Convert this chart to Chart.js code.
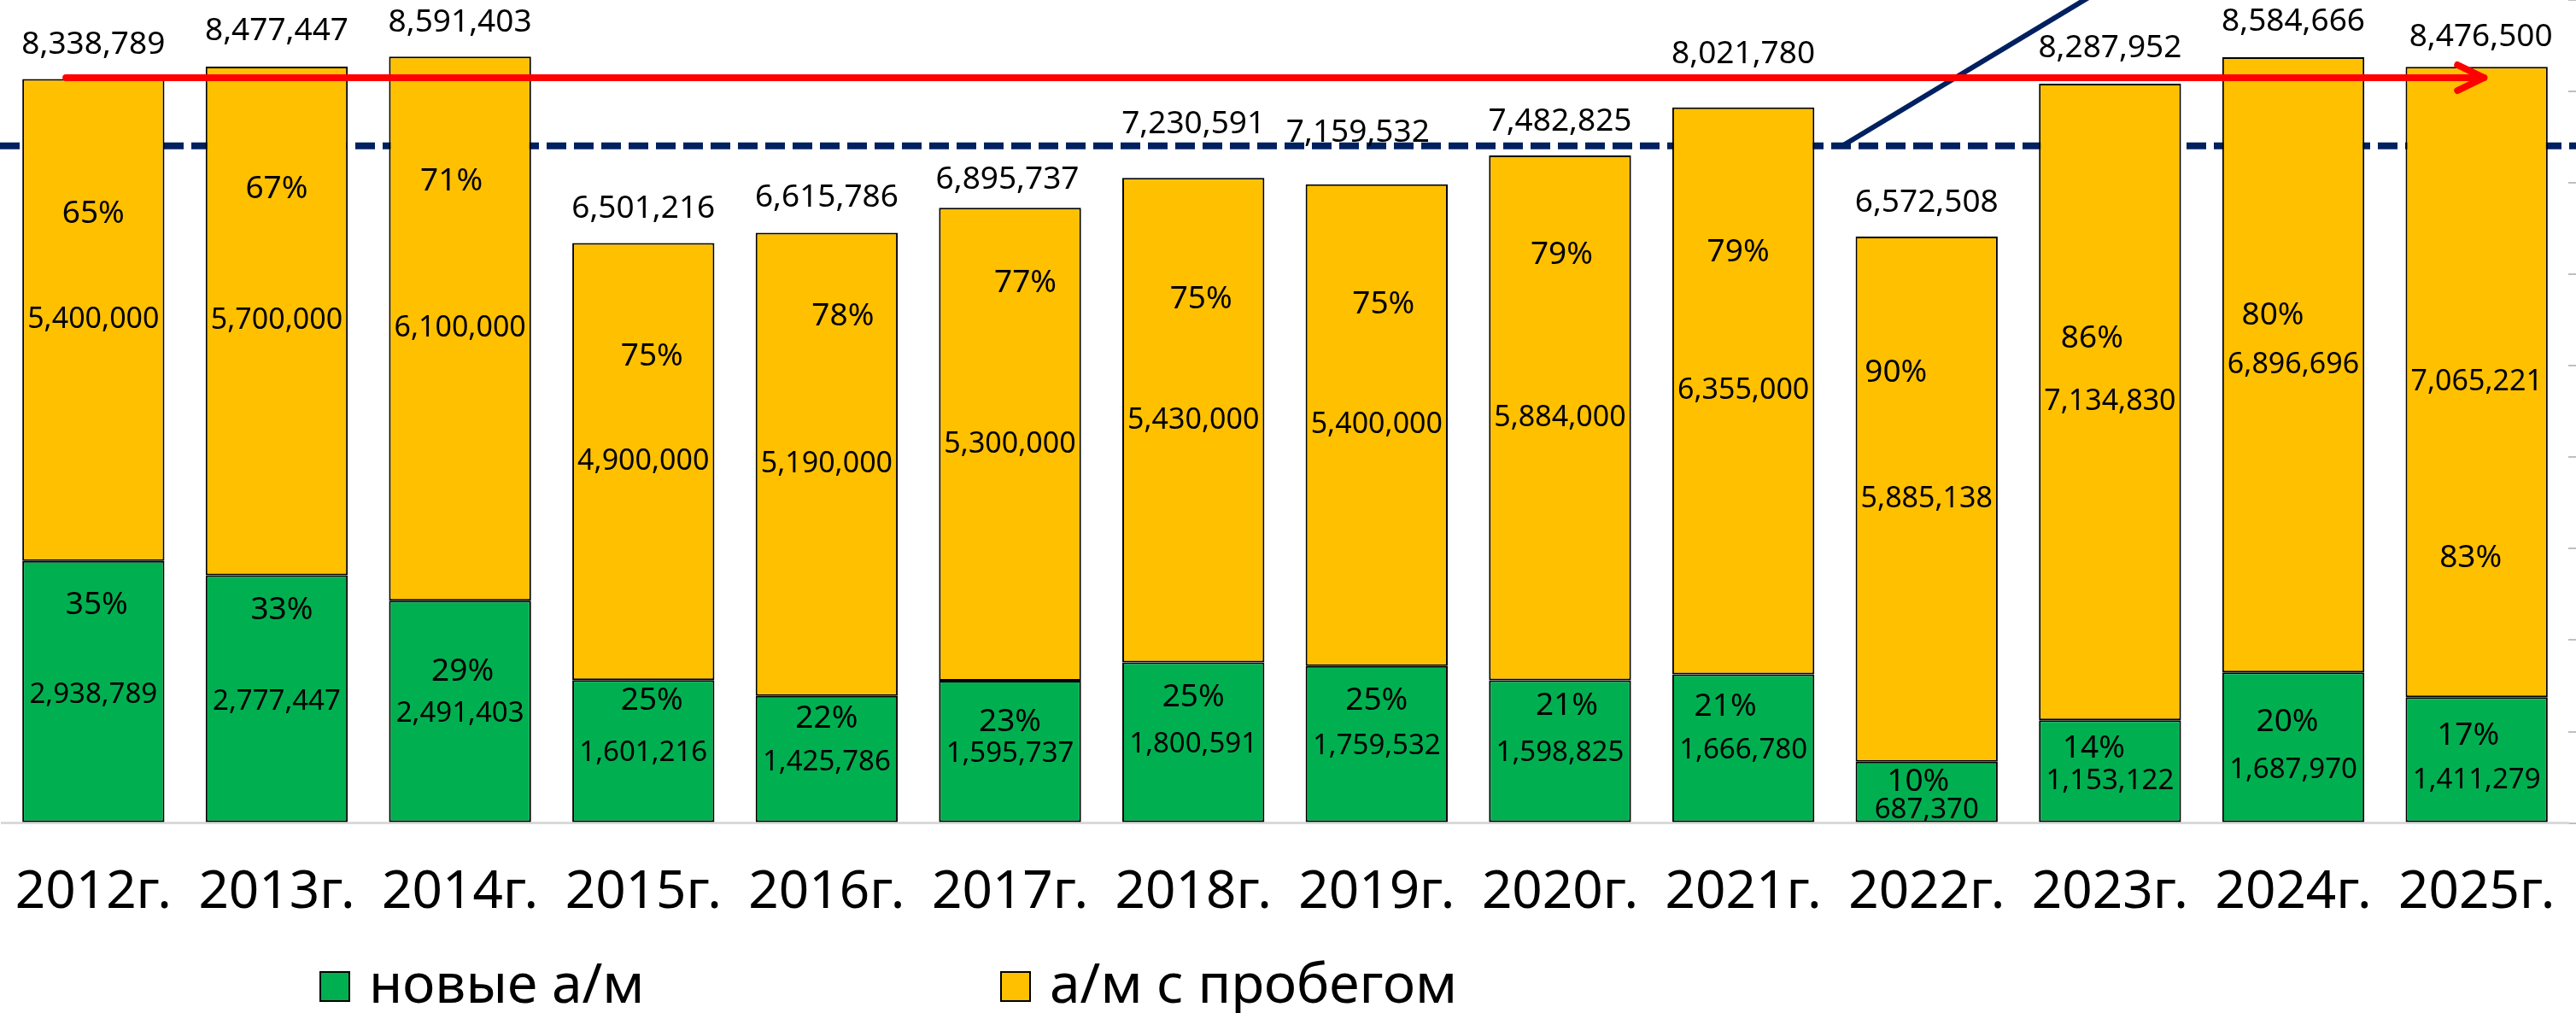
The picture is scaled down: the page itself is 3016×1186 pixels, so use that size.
<!DOCTYPE html>
<html lang="ru">
<head>
<meta charset="utf-8">
<title>Новые и подержанные автомобили</title>
<script src="https://cdn.jsdelivr.net/npm/chart.js@4.4.1/dist/chart.umd.min.js"></script>
<style>
  html, body { margin: 0; padding: 0; background: #fff; }
  #wrap { position: relative; width: 3016px; height: 1186px; overflow: hidden; }
  #salesChart { position: absolute; left: 0; top: 0; }
  .lg-item { position: absolute; top: 1118px; height: 64px; font-family: "Noto Sans", sans-serif; font-size: 64px; line-height: 64px; color: #000; white-space: nowrap; }
  .lg-box { position: absolute; left: 0; top: 19px; width: 32px; height: 32px; border: 2px solid #000; }
  .lg-text { position: absolute; left: 58px; top: 0; }
</style>
</head>
<body>
<div id="wrap">
  <canvas id="salesChart" width="3016" height="1186"></canvas>
  <div id="legend"></div>
</div>
<script>
// ===== данные =====
const years = ['2012г.', '2013г.', '2014г.', '2015г.', '2016г.', '2017г.', '2018г.',
               '2019г.', '2020г.', '2021г.', '2022г.', '2023г.', '2024г.', '2025г.'];

// новые а/м
const newCars = [2938789, 2777447, 2491403, 1601216, 1425786, 1595737, 1800591,
                 1759532, 1598825, 1666780, 687370, 1153122, 1687970, 1411279];
// а/м с пробегом
const usedCars = [5400000, 5700000, 6100000, 4900000, 5190000, 5300000, 5430000,
                  5400000, 5884000, 6355000, 5885138, 7134830, 6896696, 7065221];
// итог над столбцом
const totals = [8338789, 8477447, 8591403, 6501216, 6615786, 6895737, 7230591,
                7159532, 7482825, 8021780, 6572508, 8287952, 8584666, 8476500];

const newShare  = ['35%', '33%', '29%', '25%', '22%', '23%', '25%', '25%', '21%', '21%', '10%', '14%', '20%', '17%'];
const usedShare = ['65%', '67%', '71%', '75%', '78%', '77%', '75%', '75%', '79%', '79%', '90%', '86%', '80%', '83%'];

// линии-пометки (значения в шт.)
const avgLevel = 7590000;      // пунктир
const plateauLevel = 8354000;  // красная стрелка
const plateauFrom = -0.15;     // индекс категории
const plateauTo = 13.04;
const growthFrom = [9.54, 7590000];
const growthTo = [11.2, 9646000];

// ===== раскладка подписей (доля высоты сегмента, сдвиги в px) =====
const usedPctAt  = [0.72, 0.76, 0.77, 0.74, 0.82, 0.84, 0.75, 0.75, 0.81, 0.745, 0.74, 0.60, 0.58, 0.22];
const usedPctDx  = [0, 0, -10, 10, 19, 18, 9, 8, 2, -6, -36, -21, -24, -7];
const newPctAt   = [0.83, 0.86, 0.68, 0.855, 0.82, 0.71, 0.78, 0.78, 0.82, 0.78, 0.67, 0.72, 0.67, 0.69];
const newPctDx   = [4, 6, 3, 10, 0, 0, 0, 0, 8, -21, -10, -19, -7, -10];
const newValAt   = [0.49, 0.49, 0.49, 0.49, 0.48, 0.486, 0.49, 0.49, 0.49, 0.49, 0.21, 0.41, 0.35, 0.34];
const totalLift  = [40, 42, 40, 40, 41, 33, 63, 60, 40, 62, 40, 41, 41, 35];
const totalDx    = [0, 0, 0, 0, 0, -3, 0, -22, 0, 0, 0, 0, 0, 5];
const legendLeft = [374, 1171];

const FONT = '"Noto Sans", sans-serif';

function fmt(v) {
    return v.toLocaleString('en-US');
}

// пунктир, стрелки и подписи
const marksPlugin = {
    id: 'marks',
    beforeDatasetsDraw(chart) {
        const { ctx, scales: { y } } = chart;
        const yy = y.getPixelForValue(avgLevel);
        ctx.save();
        ctx.strokeStyle = '#002060';
        ctx.lineWidth = 8;
        ctx.setLineDash([23, 9]);
        ctx.beginPath();
        ctx.moveTo(0, yy);
        ctx.lineTo(chart.width, yy);
        ctx.stroke();
        ctx.restore();
    },
    afterDatasetsDraw(chart) {
        const { ctx, scales: { x, y } } = chart;
        ctx.save();

        // синяя линия роста
        ctx.strokeStyle = '#002060';
        ctx.lineWidth = 6;
        ctx.beginPath();
        ctx.moveTo(x.getPixelForValue(growthFrom[0]), y.getPixelForValue(growthFrom[1]));
        ctx.lineTo(x.getPixelForValue(growthTo[0]), y.getPixelForValue(growthTo[1]));
        ctx.stroke();

        // красная стрелка
        const ry = y.getPixelForValue(plateauLevel);
        const x0 = x.getPixelForValue(plateauFrom);
        const x1 = x.getPixelForValue(plateauTo);
        ctx.strokeStyle = '#ff0000';
        ctx.lineWidth = 8;
        ctx.lineCap = 'round';
        ctx.lineJoin = 'round';
        ctx.beginPath();
        ctx.moveTo(x0, ry);
        ctx.lineTo(x1, ry);
        ctx.stroke();
        ctx.beginPath();
        ctx.moveTo(x1 - 31, ry - 15);
        ctx.lineTo(x1, ry);
        ctx.lineTo(x1 - 31, ry + 15);
        ctx.stroke();

        // подписи
        ctx.fillStyle = '#000';
        ctx.textAlign = 'center';
        ctx.textBaseline = 'middle';
        const newMeta = chart.getDatasetMeta(0);
        const usedMeta = chart.getDatasetMeta(1);

        years.forEach((yr, i) => {
            const cx = newMeta.data[i].x;

            // зелёный сегмент
            ctx.font = '37px ' + FONT;
            ctx.fillText(newShare[i], cx + newPctDx[i], y.getPixelForValue(newCars[i] * newPctAt[i]));
            ctx.font = '33px ' + FONT;
            ctx.fillText(fmt(newCars[i]), cx, y.getPixelForValue(newCars[i] * newValAt[i]));

            // жёлтый сегмент
            const base = newCars[i];
            ctx.font = '37px ' + FONT;
            ctx.fillText(usedShare[i], usedMeta.data[i].x + usedPctDx[i], y.getPixelForValue(base + usedCars[i] * usedPctAt[i]));
            ctx.font = '34px ' + FONT;
            ctx.fillText(fmt(usedCars[i]), cx, y.getPixelForValue(base + usedCars[i] * 0.5));

            // итог
            ctx.font = '37px ' + FONT;
            ctx.fillText(fmt(totals[i]), cx + totalDx[i], y.getPixelForValue(totals[i]) - totalLift[i]);
        });
        ctx.restore();
    }
};

const ctx = document.getElementById('salesChart').getContext('2d');
const myChart = new Chart(ctx, {
    type: 'bar',
    data: {
        labels: years,
        datasets: [{
            label: 'новые а/м',
            data: newCars,
            backgroundColor: '#00b050',
            borderColor: '#000',
            borderWidth: 2,
            borderSkipped: false,
            barPercentage: 0.775,
            categoryPercentage: 1
        }, {
            label: 'а/м с пробегом',
            data: usedCars,
            backgroundColor: '#ffc000',
            borderColor: '#000',
            borderWidth: 2,
            borderSkipped: false,
            barPercentage: 0.775,
            categoryPercentage: 1
        }]
    },
    options: {
        responsive: false,
        animation: false,
        devicePixelRatio: 1,
        layout: { padding: { left: 2, right: 0, top: 0, bottom: 103 } },
        plugins: {
            legend: { display: false },
            tooltip: { enabled: false }
        },
        scales: {
            x: {
                stacked: true,
                // невидимые засечки дают отступ подписей годов без лишних полей по бокам
                grid: { display: true, drawOnChartArea: false, drawTicks: true, tickLength: 45, color: 'rgba(0,0,0,0)' },
                border: { display: true, color: '#d9d9d9', width: 3 },
                ticks: { color: '#000', padding: 0, font: { family: FONT, size: 62 }, maxRotation: 0, autoSkip: false }
            },
            y: {
                stacked: true,
                position: 'right',
                min: 0,
                max: 9225000,
                ticks: { display: false, stepSize: 1000000, includeBounds: false },
                grid: { drawOnChartArea: false, drawTicks: true, tickLength: 9, color: '#bfbfbf', lineWidth: 2 },
                border: { display: false }
            }
        }
    },
    plugins: [marksPlugin]
});

// легенда из наборов данных
const legendEl = document.getElementById('legend');
myChart.data.datasets.forEach((ds, i) => {
    const item = document.createElement('div');
    item.className = 'lg-item';
    item.style.left = legendLeft[i] + 'px';
    item.innerHTML = '<span class="lg-box" style="background:' + ds.backgroundColor + '"></span>' +
                     '<span class="lg-text">' + ds.label + '</span>';
    legendEl.appendChild(item);
});
</script>
</body>
</html>
